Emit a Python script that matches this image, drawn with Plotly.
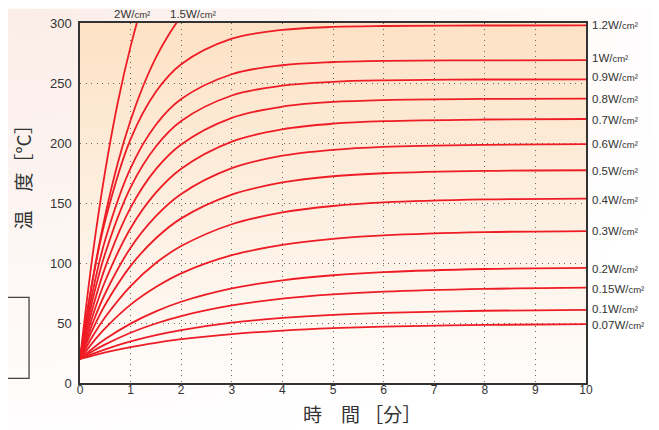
import base64
import plotly.graph_objects as go

# ---- data ----
t_main = [0, 0.25, 0.5, 1, 1.5, 2, 3, 4, 5, 6, 8, 10]
series = {
    "1.2": [20, 85.6, 135.6, 203.2, 242.7, 265.6, 286.9, 294.2, 296.7, 297.5, 297.9, 298.0],
    "1":   [20, 76.0, 119.6, 179.1, 215.2, 236.6, 257.3, 264.8, 267.5, 268.5, 268.9, 269.0],
    "0.9": [20, 69.4, 108.3, 163.1, 197.1, 218.3, 239.6, 247.8, 251.0, 252.2, 252.9, 253.0],
    "0.8": [20, 62.3, 96.6, 146.1, 178.2, 198.8, 221.0, 230.3, 234.2, 235.8, 236.8, 237.0],
    "0.7": [20, 55.8, 85.2, 129.0, 158.6, 178.6, 201.2, 211.4, 216.1, 218.2, 219.6, 220.0],
    "0.6": [20, 49.9, 74.8, 112.7, 139.0, 157.5, 179.0, 189.4, 194.3, 196.8, 198.5, 199.0],
    "0.5": [20, 44.6, 65.4, 97.6, 120.6, 137.2, 157.0, 167.1, 172.3, 174.8, 176.8, 177.3],
    "0.4": [20, 38.9, 55.0, 80.8, 100.0, 114.1, 132.3, 142.1, 147.5, 150.5, 153.0, 153.7],
    "0.3": [20, 33.7, 45.7, 65.3, 80.0, 91.4, 106.5, 115.1, 120.1, 123.0, 125.7, 126.6],
    "0.2": [20, 28.8, 36.6, 49.5, 59.7, 67.7, 78.8, 85.6, 89.8, 92.4, 95.0, 95.9],
    "0.15": [20, 26.5, 32.2, 41.9, 49.6, 55.8, 64.6, 70.3, 73.8, 76.1, 78.4, 79.4],
    "0.1": [20, 24.3, 28.1, 34.6, 39.9, 44.1, 50.3, 54.2, 56.8, 58.4, 60.2, 61.0],
    "0.07": [20, 22.9, 25.5, 29.9, 33.5, 36.5, 40.8, 43.7, 45.7, 47.0, 48.4, 49.0],
}
label_y = {
    "1.2": 298.6, "1": 271.0, "0.9": 255.4, "0.8": 236.5, "0.7": 219.4,
    "0.6": 198.8, "0.5": 176.6, "0.4": 152.7, "0.3": 126.6, "0.2": 94.7,
    "0.15": 78.3, "0.1": 61.4, "0.07": 48.3,
}
t_fast = [0, 0.25, 0.5, 0.75, 1.0, 1.25, 1.5, 1.75, 2.0, 2.25]
fast = {
    "2":   [20, 106.7, 177.2, 234.4, 280.5, 318.3, 348.9, None, None, None],
    "1.5": [20, 86.2, 140.0, 183.7, 218.9, 247.7, 271.2, 290.0, 305.5, 318.1],
}
fast_label_x = {"2": 1.02, "1.5": 2.24}
x_ticks = list(range(0, 11))
y_ticks = [0, 50, 100, 150, 200, 250, 300]

RED = "#EE1C25"
TXT = "#333333"
FONT = "Liberation Sans, Arial, sans-serif"
CJK = "Noto Sans CJK JP"

fig = go.Figure()

for k, ys in fast.items():
    xs = [x for x, y in zip(t_fast, ys) if y is not None]
    yy = [y for y in ys if y is not None]
    fig.add_trace(go.Scatter(x=xs, y=yy, mode="lines", line=dict(color=RED, width=1.8, shape="spline"),
                             hoverinfo="skip", showlegend=False))
for k, ys in series.items():
    fig.add_trace(go.Scatter(x=t_main, y=ys, mode="lines", line=dict(color=RED, width=1.8, shape="spline"),
                             hoverinfo="skip", showlegend=False))

def unit(p):
    return f'{p}W/<span style="font-size:9.5px">cm²</span>'

annotations = []
for k, yv in label_y.items():
    annotations.append(dict(x=10, y=yv, xref="x", yref="y", xanchor="left", yanchor="middle",
                            xshift=4, text=unit(k), showarrow=False,
                            font=dict(family=FONT, size=11.5, color=TXT)))
for k, xv in fast_label_x.items():
    annotations.append(dict(x=xv, y=1, xref="x", yref="paper", xanchor="center", yanchor="bottom",
                            yshift=1, text=unit(k), showarrow=False,
                            font=dict(family=FONT, size=11.5, color=TXT)))
annotations.append(dict(x=0.557, y=-0.084, xref="paper", yref="paper", xanchor="center", yanchor="middle",
                        text="時　間 ［分］", showarrow=False,
                        font=dict(family=CJK, size=19, color=TXT)))
annotations.append(dict(x=-0.1145, y=0.585, xref="paper", yref="paper", xanchor="center", yanchor="middle",
                        text="温　度［°C］", textangle=-90, showarrow=False,
                        font=dict(family=CJK, size=19, color=TXT)))

def svg_uri(svg):
    return "data:image/svg+xml;base64," + base64.b64encode(svg.encode()).decode()

plot_bg = svg_uri('<svg xmlns="http://www.w3.org/2000/svg" width="100" height="100" preserveAspectRatio="none">'
                  '<defs><linearGradient id="g" x1="0" y1="0" x2="0" y2="1">'
                  '<stop offset="0" stop-color="#FDE2C5"/><stop offset="0.55" stop-color="#FDF0E2"/>'
                  '<stop offset="1" stop-color="#FFFDFB"/></linearGradient></defs>'
                  '<rect width="100" height="100" fill="url(#g)"/></svg>')
page_bg = svg_uri('<svg xmlns="http://www.w3.org/2000/svg" width="100" height="100" preserveAspectRatio="none">'
                  '<defs><radialGradient id="g" cx="0" cy="0" r="1.1">'
                  '<stop offset="0" stop-color="#FBEDE8"/><stop offset="1" stop-color="#FFFFFF"/></radialGradient></defs>'
                  '<rect width="100" height="100" fill="url(#g)"/></svg>')

# the page adds an 8px body margin, so the figure is 8px smaller and margins shifted
fig.update_layout(
    width=651, height=422,
    margin=dict(l=72, r=72.5, t=14.5, b=47.3, autoexpand=False),
    paper_bgcolor="white", plot_bgcolor="rgba(0,0,0,0)",
    font=dict(family=FONT, size=12, color=TXT),
    annotations=annotations,
    images=[
        dict(source=page_bg, xref="paper", yref="paper", x=-0.1422, y=1.0403, sizex=1.2854, sizey=1.1717,
             xanchor="left", yanchor="top", sizing="stretch", layer="below"),
        dict(source=plot_bg, xref="paper", yref="paper", x=0, y=1, sizex=1, sizey=1,
             xanchor="left", yanchor="top", sizing="stretch", layer="below"),
    ],
    shapes=[
        dict(type="rect", xref="paper", yref="paper", x0=-0.2, x1=-0.1007, y0=0.013, y1=0.2379,
             line=dict(color="#444444", width=1.3), fillcolor="rgba(0,0,0,0)"),
    ],
)
fig.update_xaxes(range=[0, 10], tickvals=x_ticks, showgrid=True, gridcolor="#666666", griddash="1px,4.5px",
                 gridwidth=1.2, showline=True, linecolor="#333333", linewidth=1.5, mirror=True,
                 zeroline=False, ticks="", ticklabelstandoff=-5, tickfont=dict(size=12, color=TXT),
                 fixedrange=True)
fig.update_yaxes(range=[0, 300], tickvals=y_ticks, showgrid=True, gridcolor="#666666", griddash="1px,4.5px",
                 gridwidth=1.2, showline=True, linecolor="#333333", linewidth=1.5, mirror=True,
                 zeroline=False, ticks="", ticklabelstandoff=4, tickfont=dict(size=13, color=TXT),
                 fixedrange=True)

fig.write_html("out.html")
